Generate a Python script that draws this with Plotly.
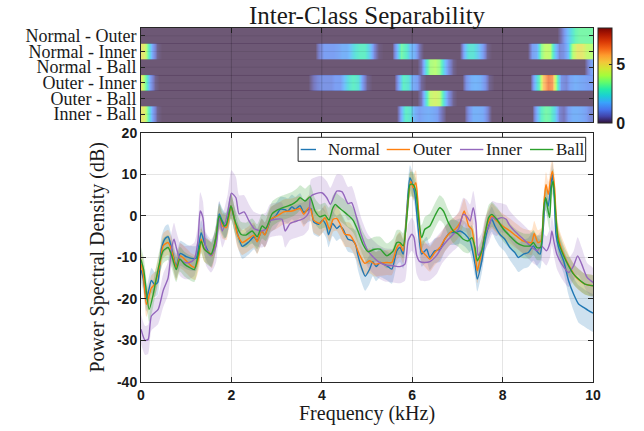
import plotly.graph_objects as go

# ---------------- PSD data (kHz, dB) ----------------
normal_f = [0.00,0.05,0.12,0.17,0.23,0.30,0.37,0.45,0.53,0.60,
            0.67,0.78,0.87,1.00,1.11,1.22,1.33,1.40,1.48,1.56,
            1.66,1.73,1.80,1.88,1.99,2.06,2.13,2.24,2.39,2.50,
            2.57,2.67,2.74,2.87,2.98,3.08,3.19,3.25,3.34,3.41,
            3.52,3.60,3.71,3.76,3.82,3.93,4.02,4.10,4.15,4.24,
            4.33,4.40,4.47,4.58,4.69,4.75,4.80,4.88,4.96,5.05,
            5.13,5.20,5.29,5.44,5.55,5.66,5.73,5.80,5.88,5.95,
            6.01,6.06,6.13,6.21,6.32,6.39,6.50,6.62,6.72,6.84,
            6.95,7.06,7.17,7.28,7.39,7.44,7.54,7.61,7.68,7.76,
            7.83,7.94,8.05,8.16,8.27,8.35,8.46,8.57,8.68,8.75,
            8.83,8.90,8.95,9.01,9.06,9.10,9.14,9.18,9.24,9.35,
            9.46,9.57,9.68,9.79,9.90,10.0]
normal_db = [-13,-15,-20,-18,-15.5,-16.5,-16,-8,-5.5,-5,
             -7.5,-12,-9,-9.8,-10.2,-10.2,-4,-6.4,-8.4,-9.4,
             -5,0.5,-1.2,-2.4,2.4,-0.4,-4,-7.3,-6.2,-5,
             -6,-3.6,-4.5,-1,0,1.6,1.5,1.2,2.2,1.6,
             2.5,0.9,1.6,1.8,-1.4,-2,-1,-2.4,-4.5,-1.8,
             -3,-2.4,-3.2,-5.6,-6,-7,-9.5,-12.5,-14.5,-13,
             -11,-12.2,-11.2,-12,-12.8,-8.4,-7.6,-9.2,1.2,9.2,
             7.6,5.2,-2.8,-9.2,-8,-10,-8.4,-8,-5.6,-4,
             -4,-3.6,-4.4,-6,-11.6,-15.2,-10.8,-6,-2.8,-0.8,
             -2.4,-4.4,-5.6,-7.6,-8.8,-10,-9.2,-8.8,-7.2,-8.4,
             -9.2,-2.8,4.4,2.4,6.8,10,5.2,-4.4,-7.6,-10.8,
             -15.6,-18.8,-21.2,-22,-22.8,-23.4]
normal_sd = [3,3,3,3,3,3,3,3,3,3,
             3,3,3,3,3,3,3,3,3,3,
             3,3,3,3,3,3,3,3,3,3,
             3,3,3,3,3,3,3,3,3,3,
             3,3,3,3,3,3,3,3,3,3,
             3,3,3,3,3,3.5,3.5,3.5,3.5,3.5,
             3.5,3.5,3.5,3.5,3.5,3.5,3.5,3.5,3,3,
             3,3,3,3,3,3,3,3,3,3,
             3,3,3,3,3,3,3,3,3,3,
             3,3,3,3,3.5,3.5,3.5,3.5,3.5,3.5,
             3.5,3,3,3,3,3,3,3,3,3,
             3.5,4,4.5,4.5,4.5,4.5]

outer_f = [0.00,0.05,0.12,0.23,0.30,0.42,0.49,0.60,0.67,0.78,
           0.87,1.00,1.11,1.20,1.29,1.33,1.40,1.51,1.57,1.66,
           1.73,1.80,1.89,1.99,2.06,2.13,2.24,2.39,2.50,2.57,
           2.67,2.74,2.87,3.01,3.16,3.34,3.52,3.60,3.71,3.76,
           3.82,3.96,4.07,4.17,4.25,4.33,4.40,4.51,4.62,4.73,
           4.84,4.95,5.06,5.17,5.29,5.44,5.55,5.66,5.73,5.80,
           5.90,5.97,6.02,6.08,6.14,6.21,6.28,6.39,6.50,6.61,
           6.72,6.84,6.95,7.06,7.15,7.25,7.32,7.39,7.44,7.54,
           7.61,7.68,7.76,7.87,8.00,8.16,8.30,8.45,8.64,8.70,
           8.78,8.85,8.92,8.96,9.01,9.06,9.10,9.15,9.20,9.27,
           9.38,9.49,9.60,9.71,9.82,10.0]
outer_db = [-11.6,-14,-21.3,-17.3,-16.5,-11.6,-7.2,-6.4,-8,-12.4,
            -9.6,-10.8,-12,-12.4,-9.2,-5.6,-8,-8.8,-9.6,-5.2,
            -0.4,-2.4,-2.8,2.4,-0.4,-4.4,-6.4,-5.4,-4.6,-6.2,
            -3.6,-4.6,-0.8,0,1,1.2,1.8,0.4,2,1.5,
            -1,-1.8,-0.4,-3.2,-0.8,-0.6,-1.8,-4.4,-4.6,-6.5,
            -9.5,-11.4,-10.8,-11.6,-11.4,-11.2,-11.2,-7.6,-6.8,-8.4,
            2.8,8.4,6.8,8,1.2,-8.4,-9.2,-10.4,-8.8,-7.6,
            -5.6,-4,-3.2,-1.6,1.2,-2.4,-3.2,-8.4,-13.2,-8.4,
            -4,-1.5,0,-1.2,-2.4,-3.6,-4.8,-6,-6.4,-4.2,
            -6.4,-6,3.6,7.6,5.2,8.8,10.8,6.8,-2.8,-6.8,
            -10,-12.4,-14.4,-15.6,-16.4,-16.8]
outer_sd = [3,3,3,3,3,3,3,3,3,3,
            3,3,3,3,3,3,3,3,3,3,
            3,3,3,3,3,3,3,3,3,3,
            3,3,3,3,3,3,3,3,3,3,
            3,3,3,3,3,3,3,3,3,3,
            3,3,3,3,3,3,3,3,3,3,
            3,3,3,3,3,3,3,3,3,3,
            3,3,3,3,3,3,3,3,3,3,
            3,3,3,3,3,3,3,3,3,3,
            3,3,3,3,3,3,3,3,3,3,
            3,2.5,2.5,2.5,2.5,2.5]

ball_f = [0.00,0.06,0.18,0.27,0.34,0.42,0.49,0.60,0.67,0.78,
          0.86,0.96,1.07,1.18,1.26,1.33,1.40,1.55,1.66,1.73,
          1.84,1.89,1.99,2.08,2.21,2.32,2.46,2.57,2.68,2.76,
          2.90,3.01,3.19,3.34,3.45,3.52,3.63,3.74,3.85,3.96,
          4.07,4.16,4.24,4.30,4.36,4.47,4.58,4.69,4.80,4.91,
          5.02,5.17,5.29,5.44,5.58,5.66,5.73,5.80,5.90,5.95,
          6.02,6.08,6.14,6.21,6.28,6.39,6.50,6.61,6.69,6.80,
          6.91,7.02,7.13,7.24,7.32,7.39,7.44,7.54,7.61,7.69,
          7.76,7.87,8.02,8.16,8.31,8.46,8.61,8.68,8.76,8.84,
          8.91,8.95,9.04,9.08,9.12,9.17,9.23,9.35,9.46,9.57,
          9.68,9.82,10.0]
ball_db = [-10.5,-13,-22.5,-18.9,-14.9,-10.8,-8.4,-7.6,-9.2,-12.9,
           -10.4,-11.6,-12.4,-12.9,-9.6,-6,-8,-9.2,-5.2,0,
           -2.4,-2,2.4,-1.2,-4.4,-4.6,-3.6,-5,-2.4,-3,
           0.5,1.4,2.2,2.8,3.6,4.4,3.6,4.6,1.2,-0.2,
           0.2,-1,1.8,2.8,2.2,1.2,0.2,-1,-3.6,-6.8,
           -8.6,-8,-8,-9.6,-8.4,-6.4,-6.4,-7.2,2,7.6,
           7.6,6,-0.4,-5.2,-3.2,-2.4,0,2,1.2,-1.6,
           -3.6,-4.4,-5.6,-6,-5.2,-7.6,-10.8,-8.4,-4.4,-0.4,
           0.4,-0.8,-3.2,-4.8,-6.4,-7.2,-7.2,-6.4,-7.6,-7.6,
           2,4.4,-0.4,6.8,8.4,1.2,-6,-9.6,-12,-14,
           -15.2,-16.4,-16.8]
ball_sd = [3,3,3,3,3,3,3,3,3,3,
           3,3,3,3,3,3,3,3,3,3,
           3,3,3,3,3,3,3,3,3,3,
           3,3,3,3,3,3,3,3,3,3,
           3,3,3,3,3,3,3,3,3,3,
           3,3,3,3,3,3,3,3,3,3,
           3,3,3,3,3,3,3,3,3,3,
           3,3,3,3,3,3,3,3,3,3,
           3,3,3,3,3,3,3,3,3,3,
           3,3,3,3,3,3,3,2.5,2.5,2.5,
           2.5,2.5,2.5]

inner_f = [0.00,0.09,0.16,0.23,0.38,0.49,0.60,0.67,0.73,0.78,
           0.86,0.96,1.07,1.18,1.26,1.31,1.37,1.44,1.55,1.66,
           1.73,1.80,1.92,2.00,2.10,2.17,2.28,2.39,2.50,2.65,
           2.76,2.85,2.98,3.12,3.19,3.30,3.45,3.60,3.71,3.76,
           3.87,4.00,4.11,4.19,4.33,4.45,4.58,4.66,4.77,4.87,
           5.02,5.13,5.25,5.40,5.58,5.73,5.84,5.91,5.99,6.04,
           6.10,6.17,6.28,6.39,6.54,6.65,6.80,6.91,7.02,7.13,
           7.20,7.28,7.35,7.41,7.46,7.54,7.61,7.70,7.77,7.87,
           7.97,8.08,8.14,8.30,8.46,8.61,8.76,8.86,8.97,9.05,
           9.09,9.14,9.20,9.31,9.46,9.57,9.66,9.75,9.87,10.0]
inner_db = [-27.3,-30,-29.7,-24.1,-22.5,-18,-14.9,-8.4,-5.6,-7.6,
            -10.4,-11.2,-11.2,-10.4,-6,1.2,-0.4,-8,-9.6,-7.2,
            -0.4,-3.6,0.8,5.5,4.4,0.5,1,-1.2,-3,-3.6,
            -3.2,-1.2,-0.8,-0.8,-3.6,-1.8,-1.2,-0.6,0.8,4.8,
            5.4,5.6,4.4,2.8,6,5.8,3,3.2,-0.4,-4.4,
            -8.4,-9.8,-11,-11.8,-12,-12.2,-11.6,-6,-4.4,-5.2,
            -9.5,-11,-11.2,-11,-9.5,-7.6,-5.6,-4.4,-3.2,0.4,
            0,-1.2,2,-1.6,-9.5,-8,-4.4,-2.4,-0.4,-0.8,
            -0.4,-0.8,-2,-4,-5.6,-7.2,-8.4,-7.2,-8.4,-6.4,
            -3.6,-6.4,-9.2,-11.6,-13.6,-12,-9.6,-11.6,-14.8,-16]
inner_sd = [3.5,3.5,3.5,3.5,3.5,4,4,4,4,4,
            4,4,4,4,4,4.5,4,4,4,4,
            4,4,4.5,5.5,5,4.5,4,4,4,4,
            4,4,4,4,4,4,4,4,4,4,
            4,4,4,4,4,4,4,4,4,4,
            4,4,4,4,4,4,4,4,4,4,
            4.5,4.5,4.5,4.5,4.5,4,4,4,4,4,
            4,4,4,4,4,4,4,4,4,4,
            3.5,3.5,3.5,3.5,3.5,3.5,3.5,3.5,3.5,3.5,
            3.5,3.5,3.5,3.5,3.5,3.5,4.5,4,3.5,3.5]

# ---------------- Separability heatmap (0.1 kHz bins) ----------------
sep_freq = [i / 10 for i in range(101)]
pair_labels = ["Normal - Outer", "Normal - Inner", "Normal - Ball",
               "Outer - Inner", "Outer - Ball", "Inner - Ball"]
sep_normal_outer = [0]*93 + [0.5,1.5,2.2,3,3.2,3.2,3.2,3.2]
sep_normal_inner = ([4.8,3,1.2,0.2] + [0]*35 +
                    [0.8,1.2,1.2,1.2,1.3,1.5,1.5,2,2.5,2.8,2.8,2,0.8,0.1] +
                    [0]*3 + [1.5,3.2,2.8,1.8,1.5,0.5] + [0]*9 +
                    [1.5,2.5,2.5,2,1.2,0.2] + [0]*9 +
                    [1.2,1.5,3.5,4.2,4,2,0.8,1,1.8,4,4.8,4.8,4.2,4])
sep_normal_ball = ([0]*62 + [0.5,2.5,3.8,4,3.6,2,1,0.2] + [0]*29 + [0.8,1.5])
sep_outer_inner = ([4.8,3,1.2,0.2] + [0]*34 +
                   [0.5,0.8,1,1,1,1.2,1.2,1.8,2.5,2.8,2.5,1.2,0.2] + [0]*6 +
                   [1.5,2.8,2.5,1.5,1.2,0.3] + [0]*9 +
                   [1,1.5,1.6,1.5,1,0.2] + [0]*9 +
                   [1.5,3,5.5,6.5,6.2,3,1,0.8,1.3,1.5,1.4,1.3,1.2,1.2])
sep_outer_ball = [0]*62 + [0.5,2.5,4.2,4.5,4.2,2.2,1,0.2] + [0]*31
sep_inner_ball = ([4.8,3,1.2,0.2] + [0]*53 +
                  [1.5,2.8,2.5,1.5,1.2,1.4,1.5,1.4,1.2,0.5] + [0]*5 +
                  [1,1.5,1.5,1.4,0.8] + [0]*10 +
                  [1.5,2.8,3.2,3,2.2,0.8,0.5,1.2,1.5,1.5,1.4,1.2,0.8])
sep_rows = [sep_normal_outer, sep_normal_inner, sep_normal_ball,
            sep_outer_inner, sep_outer_ball, sep_inner_ball]

x_ticks = [0, 2, 4, 6, 8, 10]
y_ticks = [20, 10, 0, -10, -20, -30, -40]
cbar_ticks = [0, 5]

series = [
    ("Normal", normal_f, normal_db, normal_sd, "#1f77b4", "rgba(31,119,180,0.22)"),
    ("Outer", outer_f, outer_db, outer_sd, "#ff7f0e", "rgba(255,127,14,0.22)"),
    ("Inner", inner_f, inner_db, inner_sd, "#9467bd", "rgba(148,103,189,0.22)"),
    ("Ball", ball_f, ball_db, ball_sd, "#2ca02c", "rgba(44,160,44,0.22)"),
]

SERIF = "Liberation Serif"
SANS = "Liberation Sans"
AX = "#262626"
TXT = "#1a1a1a"

fig = go.Figure()

# heatmap rows
n = len(pair_labels)
for i, (lab, row) in enumerate(zip(pair_labels, sep_rows)):
    c = n - 1 - i
    fig.add_trace(go.Heatmap(
        x=sep_freq, y=[c - 0.5, c, c + 0.5], z=[row, row],
        colorscale="Turbo", zmin=0, zmax=8.1, zsmooth="best",
        opacity=0.7, showscale=(i == 0), hoverinfo="skip",
        xaxis="x2", yaxis="y2", showlegend=False,
        colorbar=dict(x=1.011, xanchor="left", y=1, yanchor="top", len=0.268,
                      lenmode="fraction", thickness=14, outlinewidth=1,
                      outlinecolor=AX, tickvals=cbar_ticks, ticks="inside",
                      ticklen=3, tickcolor=AX, xpad=0, ypad=0,
                      tickfont=dict(family=SANS, size=16, weight="bold", color=TXT)),
    ))

# bands
for name, f, m, sd, col, fill in series:
    up = [a + b for a, b in zip(m, sd)]
    lo = [a - b for a, b in zip(m, sd)]
    fig.add_trace(go.Scatter(
        x=f + f[::-1], y=up + lo[::-1], fill="toself", fillcolor=fill,
        line=dict(width=0, shape="spline", smoothing=0.6),
        mode="lines", showlegend=False, hoverinfo="skip"))

# lines
for name, f, m, sd, col, fill in series:
    fig.add_trace(go.Scatter(
        x=f, y=m, mode="lines", name=name, showlegend=False,
        line=dict(color=col, width=1.4, shape="spline", smoothing=0.6)))

shapes = []
for xv in [2, 4, 6, 8]:
    shapes.append(dict(type="line", xref="x2", yref="y2 domain", x0=xv, x1=xv,
                       y0=0, y1=1, line=dict(color="rgba(0,0,0,0.18)", width=1),
                       layer="above"))
for k in range(n):
    shapes.append(dict(type="line", xref="x2 domain", yref="y2", x0=0, x1=1,
                       y0=k, y1=k, line=dict(color="rgba(0,0,0,0.08)", width=1),
                       layer="above"))

annotations = [
    dict(text="Power Spectral Density (dB)", textangle=-90, xref="paper", yref="y domain",
         x=-0.0973, y=0.5, xanchor="center", yanchor="middle", showarrow=False,
         font=dict(family=SERIF, size=20, color=TXT)),
    dict(text="Frequency (kHz)", xref="x domain", yref="paper",
         x=0.5, y=-0.0876, xanchor="center", yanchor="middle", showarrow=False,
         font=dict(family=SERIF, size=20, color=TXT)),
]

# legend (box, line samples, labels) drawn inside the main axes
leg_box = dict(x0=0.3476, x1=0.9838, y0=0.8863, y1=0.9827)
leg_line_x = [(0.3533, 0.3872), (0.5436, 0.5951), (0.7058, 0.7573), (0.8606, 0.9122)]
leg_text_x = [0.4126, 0.6003, 0.7633, 0.9174]
leg_y = 0.9337
shapes.append(dict(type="rect", xref="x domain", yref="y domain",
                   x0=leg_box["x0"], x1=leg_box["x1"], y0=leg_box["y0"], y1=leg_box["y1"],
                   fillcolor="white", line=dict(color=AX, width=1), layer="above"))
for (name, f, m, sd, col, fill), (lx0, lx1), tx in zip(series, leg_line_x, leg_text_x):
    shapes.append(dict(type="line", xref="x domain", yref="y domain",
                       x0=lx0, x1=lx1, y0=leg_y, y1=leg_y,
                       line=dict(color=col, width=1.4), layer="above"))
    annotations.append(dict(text=name, xref="x domain", yref="y domain", x=tx - 0.004,
                            y=leg_y, xanchor="left", yanchor="middle", showarrow=False,
                            font=dict(family=SERIF, size=17, color=TXT)))

fig.update_layout(
    width=644, height=431,
    margin=dict(l=141, r=51, t=28, b=49, autoexpand=False),
    paper_bgcolor="white", plot_bgcolor="white",
    showlegend=False,
    title=dict(text="Inter-Class Separability", x=0.5, xref="paper",
               y=1 - 15.5 / 431, yref="container", xanchor="center", yanchor="middle",
               font=dict(family=SERIF, size=25, color=TXT)),
    xaxis=dict(domain=[0, 1], anchor="y", range=[0, 10], tickvals=x_ticks,
               ticks="inside", ticklen=5, tickcolor=AX, mirror="ticks",
               showline=True, linecolor=AX, linewidth=1, automargin=False,
               showgrid=True, gridcolor="rgba(0,0,0,0.1)", zeroline=False,
               tickfont=dict(family=SANS, size=14, weight="bold", color=TXT)),
    yaxis=dict(domain=[0, 0.7034], anchor="x", range=[-40, 20],
               tickvals=y_ticks, ticktext=[str(v) for v in y_ticks],
               ticks="inside", ticklen=5, tickcolor=AX, mirror="ticks",
               showline=True, linecolor=AX, linewidth=1, automargin=False,
               showgrid=True, gridcolor="rgba(0,0,0,0.1)", zeroline=False,
               tickfont=dict(family=SANS, size=14, weight="bold", color=TXT)),
    xaxis2=dict(domain=[0, 1], anchor="y2", range=[0, 10], tickvals=x_ticks,
                showticklabels=False, ticks="inside", ticklen=5, tickcolor=AX,
                mirror="ticks", showline=True, linecolor=AX, linewidth=1,
                showgrid=False, zeroline=False, automargin=False),
    yaxis2=dict(domain=[0.7345, 1], anchor="x2", range=[-0.5, n - 0.5],
                tickvals=list(range(n)), ticktext=pair_labels[::-1],
                ticks="inside", ticklen=4, tickcolor=AX, mirror="ticks",
                showline=True, linecolor=AX, linewidth=1, automargin=False,
                showgrid=False, zeroline=False,
                tickfont=dict(family=SERIF, size=18, color=TXT)),
    shapes=shapes,
    annotations=annotations,
)

fig.write_html("out.html", config={"displayModeBar": False},
               post_script="document.body.style.margin='0';document.body.style.padding='0';")
